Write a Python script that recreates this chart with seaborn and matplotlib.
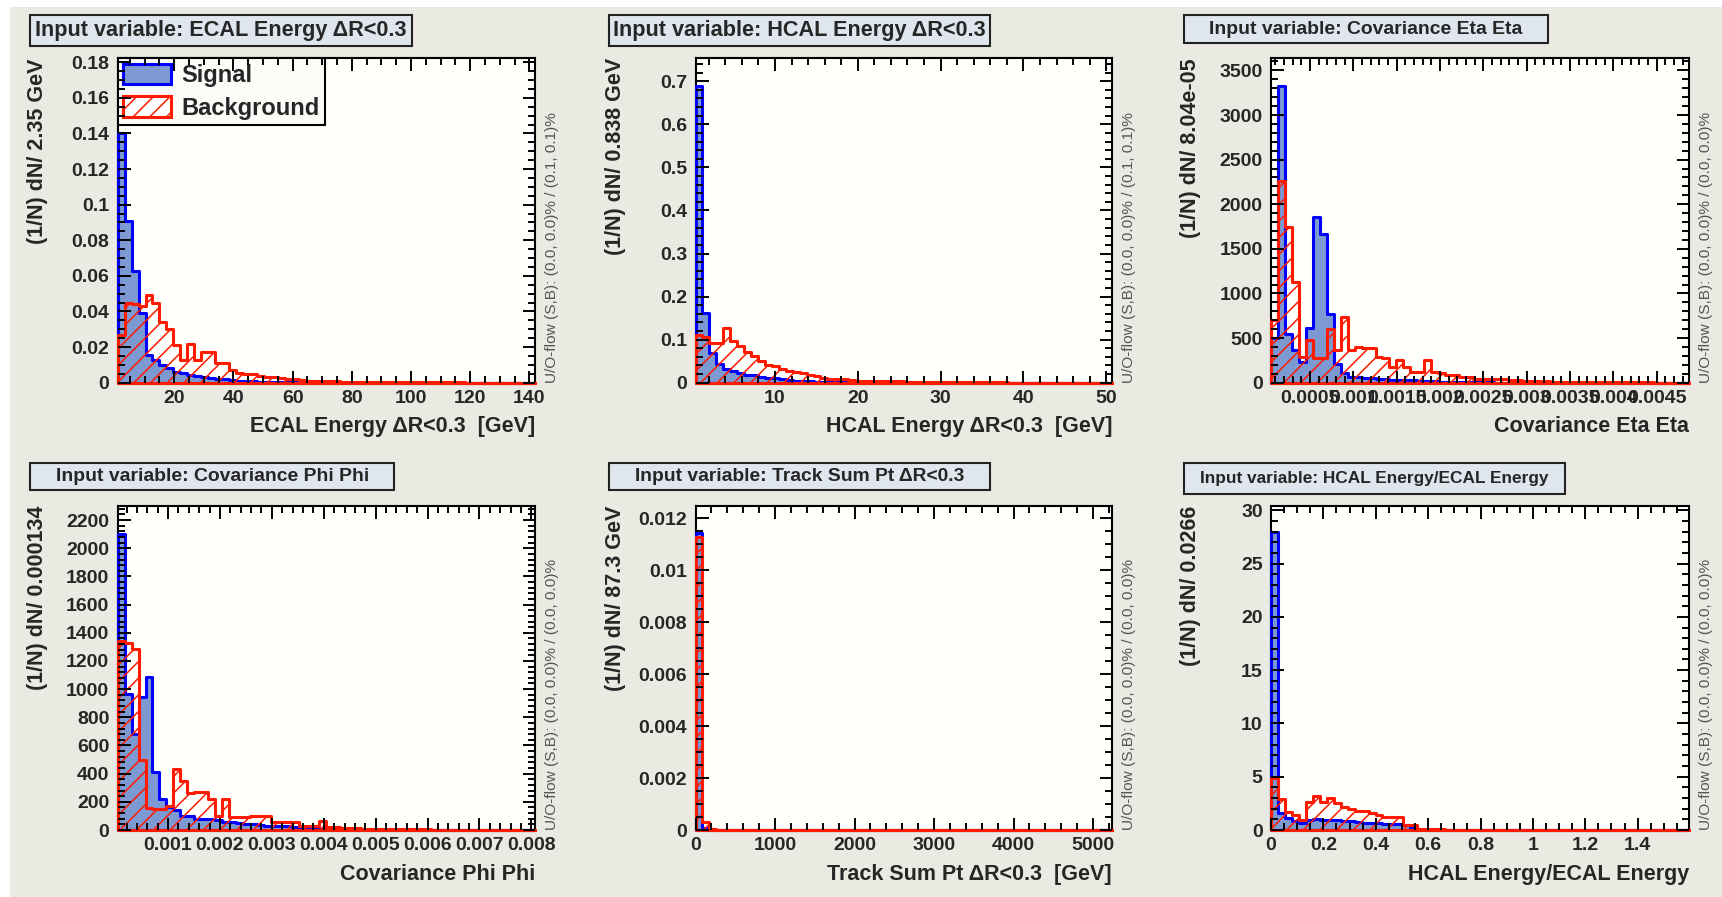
import numpy as np
import matplotlib
matplotlib.use("Agg")
import matplotlib.pyplot as plt
import seaborn as sns
from matplotlib.patches import Patch, Rectangle
from matplotlib.ticker import MultipleLocator, FuncFormatter

# ---------------- data (60 bins per variable) ----------------
ecal_xmin, ecal_bw = 0.9, 2.35
ecal_signal = [0.140, 0.091, 0.063, 0.039, 0.0155, 0.0127, 0.0099, 0.0081, 0.0062, 0.0053,
               0.0043, 0.0035, 0.0030, 0.0025, 0.0020, 0.0018, 0.0015, 0.0012, 0.0010, 0.0008,
               0.0006, 0.0005, 0.0004, 0.0003, 0.0002, 0.0002, 0.0001, 0.0001, 0.0, 0.0,
               0.0, 0.0, 0.0, 0.0, 0.0, 0.0, 0.0, 0.0, 0.0, 0.0,
               0.0, 0.0, 0.0, 0.0, 0.0, 0.0, 0.0, 0.0, 0.0, 0.0,
               0.0, 0.0, 0.0, 0.0, 0.0, 0.0, 0.0, 0.0, 0.0, 0.0]
ecal_background = [0.027, 0.045, 0.044, 0.043, 0.049, 0.045, 0.034, 0.030, 0.021, 0.013,
                   0.022, 0.013, 0.0175, 0.0175, 0.011, 0.011, 0.007, 0.0055, 0.005, 0.005,
                   0.0035, 0.0033, 0.0032, 0.0025, 0.0020, 0.0018, 0.0015, 0.0012, 0.0010, 0.0010,
                   0.0008, 0.0008, 0.0006, 0.0006, 0.0005, 0.0005, 0.0004, 0.0004, 0.0004, 0.0003,
                   0.0003, 0.0003, 0.0003, 0.0002, 0.0002, 0.0002, 0.0002, 0.0002, 0.0002, 0.0002,
                   0.0001, 0.0001, 0.0001, 0.0001, 0.0001, 0.0001, 0.0001, 0.0001, 0.0001, 0.0001]

hcal_xmin, hcal_bw = 0.41, 0.838
hcal_signal = [0.690, 0.163, 0.070, 0.043, 0.031, 0.027, 0.023, 0.019, 0.017, 0.014,
               0.012, 0.010, 0.008, 0.006, 0.005, 0.004, 0.003, 0.0025, 0.002, 0.0015,
               0.001, 0.0008, 0.0006, 0.0005, 0.0004, 0.0003, 0.0002, 0.0002, 0.0001, 0.0001,
               0.0, 0.0, 0.0, 0.0, 0.0, 0.0, 0.0, 0.0, 0.0, 0.0,
               0.0, 0.0, 0.0, 0.0, 0.0, 0.0, 0.0, 0.0, 0.0, 0.0,
               0.0, 0.0, 0.0, 0.0, 0.0, 0.0, 0.0, 0.0, 0.0, 0.0]
hcal_background = [0.110, 0.105, 0.093, 0.093, 0.126, 0.097, 0.085, 0.072, 0.062, 0.050,
                   0.042, 0.038, 0.031, 0.028, 0.026, 0.023, 0.017, 0.015, 0.012, 0.009,
                   0.009, 0.008, 0.006, 0.005, 0.005, 0.004, 0.004, 0.003, 0.003, 0.003,
                   0.002, 0.002, 0.002, 0.0015, 0.0015, 0.001, 0.001, 0.001, 0.001, 0.0008,
                   0.0008, 0.0006, 0.0006, 0.0005, 0.0005, 0.0004, 0.0004, 0.0003, 0.0003, 0.0003,
                   0.0002, 0.0002, 0.0002, 0.0002, 0.0002, 0.0002, 0.0002, 0.0002, 0.0002, 0.0002]

coveta_xmin, coveta_bw = 0.00005, 8.04e-05
coveta_signal = [500, 3320, 550, 365, 230, 615, 1860, 1670, 775, 210,
                 104, 67, 60, 55, 50, 45, 40, 35, 30, 30,
                 25, 20, 18, 15, 12, 10, 8, 6, 5, 4,
                 3, 3, 2, 2, 1, 1, 0, 0, 0, 0,
                 0, 0, 0, 0, 0, 0, 0, 0, 0, 0,
                 0, 0, 0, 0, 0, 0, 0, 0, 0, 0]
coveta_background = [700, 2260, 1740, 1130, 290, 477, 272, 272, 607, 365,
                     737, 365, 402, 384, 384, 290, 272, 179, 253, 179,
                     123, 123, 253, 123, 112, 86, 86, 67, 60, 37,
                     37, 37, 37, 37, 30, 25, 20, 20, 15, 15,
                     12, 12, 10, 10, 8, 8, 6, 6, 5, 5,
                     4, 4, 3, 3, 3, 2, 2, 2, 2, 2]

covphi_xmin, covphi_bw = 0.00003, 0.000134
covphi_signal = [2100, 966, 680, 946, 1085, 409, 220, 161, 140, 102,
                 102, 80, 80, 78, 70, 60, 55, 50, 45, 40,
                 35, 30, 30, 25, 25, 20, 20, 15, 12, 10,
                 8, 6, 5, 4, 3, 2, 2, 1, 1, 0,
                 0, 0, 0, 0, 0, 0, 0, 0, 0, 0,
                 0, 0, 0, 0, 0, 0, 0, 0, 0, 0]
covphi_background = [1340, 1330, 1285, 500, 155, 150, 150, 173, 433, 350,
                     260, 267, 267, 220, 100, 220, 90, 90, 90, 100,
                     100, 100, 55, 55, 55, 55, 31, 31, 31, 66,
                     19, 19, 15, 15, 12, 10, 10, 8, 8, 6,
                     6, 5, 5, 4, 4, 3, 3, 3, 2, 2,
                     2, 2, 2, 1, 1, 1, 1, 1, 1, 1]

track_xmin, track_bw = 0.0, 87.3
track_signal = [0.01145, 0.00006, 0.0, 0.0, 0.0, 0.0, 0.0, 0.0, 0.0, 0.0,
                0.0, 0.0, 0.0, 0.0, 0.0, 0.0, 0.0, 0.0, 0.0, 0.0,
                0.0, 0.0, 0.0, 0.0, 0.0, 0.0, 0.0, 0.0, 0.0, 0.0,
                0.0, 0.0, 0.0, 0.0, 0.0, 0.0, 0.0, 0.0, 0.0, 0.0,
                0.0, 0.0, 0.0, 0.0, 0.0, 0.0, 0.0, 0.0, 0.0, 0.0,
                0.0, 0.0, 0.0, 0.0, 0.0, 0.0, 0.0, 0.0, 0.0, 0.0]
track_background = [0.0113, 0.0003, 0.00002, 0.0, 0.0, 0.0, 0.0, 0.0, 0.0, 0.0,
                    0.0, 0.0, 0.0, 0.0, 0.0, 0.0, 0.0, 0.0, 0.0, 0.0,
                    0.0, 0.0, 0.0, 0.0, 0.0, 0.0, 0.0, 0.0, 0.0, 0.0,
                    0.0, 0.0, 0.0, 0.0, 0.0, 0.0, 0.0, 0.0, 0.0, 0.0,
                    0.0, 0.0, 0.0, 0.0, 0.0, 0.0, 0.0, 0.0, 0.0, 0.0,
                    0.0, 0.0, 0.0, 0.0, 0.0, 0.0, 0.0, 0.0, 0.0, 0.0]

ratio_xmin, ratio_bw = 0.0, 0.0266
ratio_signal = [28.0, 1.6, 1.1, 0.8, 0.7, 0.9, 1.0, 0.95, 0.95, 0.9,
                0.85, 0.8, 0.75, 0.7, 0.7, 0.65, 0.6, 0.6, 0.55, 0.5,
                0.2, 0.05, 0.0, 0.0, 0.0, 0.0, 0.0, 0.0, 0.0, 0.0,
                0.0, 0.0, 0.0, 0.0, 0.0, 0.0, 0.0, 0.0, 0.0, 0.0,
                0.0, 0.0, 0.0, 0.0, 0.0, 0.0, 0.0, 0.0, 0.0, 0.0,
                0.0, 0.0, 0.0, 0.0, 0.0, 0.0, 0.0, 0.0, 0.0, 0.0]
ratio_background = [4.85, 2.95, 1.7, 1.4, 0.95, 2.6, 3.15, 2.6, 3.0, 2.5,
                    2.2, 2.0, 1.8, 1.75, 1.6, 1.4, 1.25, 1.2, 1.2, 0.47,
                    0.47, 0.12, 0.08, 0.05, 0.05, 0.04, 0.03, 0.03, 0.02, 0.02,
                    0.0, 0.0, 0.0, 0.0, 0.0, 0.0, 0.0, 0.0, 0.0, 0.0,
                    0.0, 0.0, 0.0, 0.0, 0.0, 0.0, 0.0, 0.0, 0.0, 0.0,
                    0.0, 0.0, 0.0, 0.0, 0.0, 0.0, 0.0, 0.0, 0.0, 0.0]

titles = ["Input variable: ECAL Energy \u0394R<0.3", "Input variable: HCAL Energy \u0394R<0.3",
          "Input variable: Covariance Eta Eta", "Input variable: Covariance Phi Phi",
          "Input variable: Track Sum Pt \u0394R<0.3", "Input variable: HCAL Energy/ECAL Energy"]
x_titles = ["ECAL Energy \u0394R<0.3  [GeV]", "HCAL Energy \u0394R<0.3  [GeV]",
            "Covariance Eta Eta", "Covariance Phi Phi",
            "Track Sum Pt \u0394R<0.3  [GeV]", "HCAL Energy/ECAL Energy"]
y_titles = ["(1/N) dN/ 2.35 GeV", "(1/N) dN/ 0.838 GeV", "(1/N) dN/ 8.04e-05",
            "(1/N) dN/ 0.000134", "(1/N) dN/ 87.3 GeV", "(1/N) dN/ 0.0266"]
uo_texts = ["U/O-flow (S,B): (0.0, 0.0)% / (0.1, 0.1)%", "U/O-flow (S,B): (0.0, 0.0)% / (0.1, 0.1)%",
            "U/O-flow (S,B): (0.0, 0.0)% / (0.0, 0.0)%", "U/O-flow (S,B): (0.0, 0.0)% / (0.0, 0.0)%",
            "U/O-flow (S,B): (0.0, 0.0)% / (0.0, 0.0)%", "U/O-flow (S,B): (0.0, 0.0)% / (0.0, 0.0)%"]
legend_labels = ["Signal", "Background"]

# ---------------- style ----------------
sns.set_style("ticks")
plt.rcParams["font.family"] = ["Liberation Sans", "DejaVu Sans"]
plt.rcParams["font.weight"] = "bold"
plt.rcParams["hatch.linewidth"] = 1.1
plt.rcParams["hatch.color"] = "#ff1a00"

SIG_FILL, SIG_LINE, BKG_LINE = "#7d99d1", "#0000ff", "#ff1a00"
W, H = 1722, 897
fig = plt.figure(figsize=(W / 100, H / 100), dpi=100, facecolor="#eaeae2")

# white margin strips (top / left)
fig.add_artist(Rectangle((0, 1 - 7 / H), 1, 7 / H, transform=fig.transFigure,
                         facecolor="white", edgecolor="none", zorder=0))
fig.add_artist(Rectangle((0, 0), 10 / W, 1, transform=fig.transFigure,
                         facecolor="white", edgecolor="none", zorder=0))


def ax_rect(l, r, t, b):
    return [l / W, 1 - b / H, (r - l) / W, (b - t) / H]


cols = [(117.7, 535.0), (695.5, 1112.0), (1271.0, 1689.0)]
rows = [(58.0, 382.7), (506.0, 830.0)]

# layout / axis settings per panel
specs = [
    dict(sig=ecal_signal, bkg=ecal_background, x0=ecal_xmin, bw=ecal_bw, ymax=0.1824,
         xmaj=20, xmn=5, ymaj=0.02, ymn=0.005, box=(30.4, 15.0, 411.9, 46.5), tw=371),
    dict(sig=hcal_signal, bkg=hcal_background, x0=hcal_xmin, bw=hcal_bw, ymax=0.754,
         xmaj=10, xmn=2, ymaj=0.1, ymn=0.02, box=(608.5, 15.0, 990.0, 46.5), tw=373),
    dict(sig=coveta_signal, bkg=coveta_background, x0=coveta_xmin, bw=coveta_bw, ymax=3639,
         xmaj=0.0005, xmn=0.0001, ymaj=500, ymn=100, box=(1184.4, 15.0, 1547.8, 43.5), tw=314),
    dict(sig=covphi_signal, bkg=covphi_background, x0=covphi_xmin, bw=covphi_bw, ymax=2300,
         xmaj=0.001, xmn=0.0002, ymaj=200, ymn=40, box=(30.4, 463.0, 394.4, 490.5), tw=315),
    dict(sig=track_signal, bkg=track_background, x0=track_xmin, bw=track_bw, ymax=0.01248,
         xmaj=1000, xmn=200, ymaj=0.002, ymn=0.0005, box=(608.5, 463.0, 990.0, 490.5), tw=331),
    dict(sig=ratio_signal, bkg=ratio_background, x0=ratio_xmin, bw=ratio_bw, ymax=30.4,
         xmaj=0.2, xmn=0.05, ymaj=5, ymn=1, box=(1184.4, 463.0, 1565.0, 494.0), tw=350),
]

fmt = FuncFormatter(lambda v, p: "%g" % v)
title_texts, uo_artists = [], []


def draw_step(ax, centers, values, edges, style):
    n0 = len(ax.collections)
    sns.histplot(x=list(centers), weights=list(values), bins=list(edges), element="step",
                 fill=True, color=style["edge"], alpha=1, ax=ax, legend=False)
    for c in ax.collections[n0:]:
        c.set_facecolor(style["face"])
        c.set_edgecolor(style["edge"])
        if style["hatch"]:
            c.set_hatch(style["hatch"])
        c.set_linewidth(2.2)
        c.set_alpha(1)
        c.set_zorder(style["z"])
        c.set_clip_on(False)


sig_style = dict(face=SIG_FILL, edge=SIG_LINE, hatch=None, z=6)
bkg_style = dict(face="none", edge=BKG_LINE, hatch="//", z=6.5)

for i, sp in enumerate(specs):
    l, r = cols[i % 3]
    t, b = rows[i // 3]
    ax = fig.add_axes(ax_rect(l, r, t, b))
    ax.set_facecolor("#fffffb")

    nb = len(sp["sig"])
    edges = sp["x0"] + sp["bw"] * np.arange(nb + 1)
    centers = 0.5 * (edges[:-1] + edges[1:])

    draw_step(ax, centers, sp["sig"], edges, sig_style)
    draw_step(ax, centers, sp["bkg"], edges, bkg_style)

    ax.set_xlim(edges[0], edges[-1])
    ax.set_ylim(0, sp["ymax"])
    ax.set_xlabel("")
    ax.set_ylabel("")
    ax.xaxis.set_major_locator(MultipleLocator(sp["xmaj"]))
    ax.xaxis.set_minor_locator(MultipleLocator(sp["xmn"]))
    ax.yaxis.set_major_locator(MultipleLocator(sp["ymaj"]))
    ax.yaxis.set_minor_locator(MultipleLocator(sp["ymn"]))
    ax.xaxis.set_major_formatter(fmt)
    ax.yaxis.set_major_formatter(fmt)
    ax.tick_params(which="both", direction="in", top=True, right=True,
                   width=1.4, color="black", labelsize=14)
    ax.tick_params(which="major", length=9)
    ax.tick_params(which="minor", length=4.8)
    ax.tick_params(axis="y", pad=6)
    ax.tick_params(axis="x", pad=5)
    ax.xaxis.set_zorder(7)
    ax.yaxis.set_zorder(7)
    for s in ax.spines.values():
        s.set_linewidth(1.5)
        s.set_color("black")
        s.set_zorder(5)

    ax.text(1.0, -0.136, x_titles[i], transform=ax.transAxes, ha="right", va="center",
            fontsize=15.5, fontweight="bold")
    ax.text(-0.193, 1.0, y_titles[i], transform=ax.transAxes, rotation=90,
            ha="center", va="top", fontsize=15.5, fontweight="bold")
    uo = ax.text(1.041, 0.0, uo_texts[i], transform=ax.transAxes, rotation=90,
                 ha="center", va="bottom", fontsize=9, fontweight="normal", color="#555555")
    uo_artists.append(uo)

    # title box
    x0, y0, x1, y1 = sp["box"]
    fig.add_artist(Rectangle((x0 / W, 1 - y1 / H), (x1 - x0) / W, (y1 - y0) / H,
                             transform=fig.transFigure, facecolor="#dfe6ee",
                             edgecolor="#222222", linewidth=1.5, zorder=3))
    tt = fig.text((x0 + x1) / 2 / W, 1 - (y0 + y1) / 2 / H, titles[i], ha="center",
                  va="center", fontsize=15, fontweight="bold", zorder=4)
    title_texts.append((tt, sp["tw"]))

    if i == 0:
        handles = [Patch(facecolor=SIG_FILL, edgecolor=SIG_LINE, linewidth=2.2),
                   Patch(facecolor="white", edgecolor=BKG_LINE, linewidth=2.2, hatch="//")]
        leg = ax.legend(handles, legend_labels, loc="upper left", bbox_to_anchor=(0, 1),
                        bbox_transform=ax.transAxes, borderaxespad=0, frameon=True,
                        fancybox=False, edgecolor="black", facecolor="#fbfbf8", framealpha=1,
                        prop=dict(size=17, weight="bold"), handlelength=2.0, handleheight=0.95,
                        handletextpad=0.45, borderpad=0.24, labelspacing=0.4)
        leg.get_frame().set_linewidth(1.5)
        leg.set_zorder(6.8)

# fit title and U/O text lengths to the reference
fig.canvas.draw()
renderer = fig.canvas.get_renderer()
for tt, target in title_texts:
    w = tt.get_window_extent(renderer).width
    tt.set_fontsize(tt.get_fontsize() * target / w)
for uo in uo_artists:
    h = uo.get_window_extent(renderer).height
    uo.set_fontsize(uo.get_fontsize() * 270.0 / h)

fig.savefig("out.png", dpi=100, facecolor=fig.get_facecolor())
